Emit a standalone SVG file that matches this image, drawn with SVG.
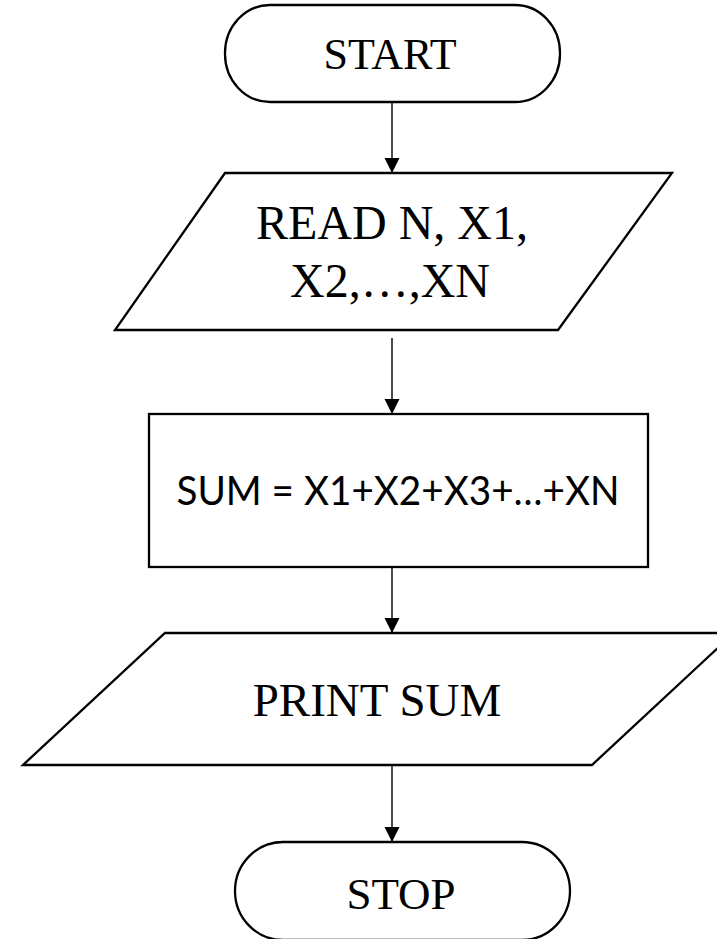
<svg xmlns="http://www.w3.org/2000/svg" width="717" height="939" viewBox="0 0 717 939">
  <style>
    .shape { fill: #ffffff; stroke: #000000; stroke-width: 2.3; }
    .edge { fill: none; stroke: #000000; stroke-width: 1.4; }
    .serif { font-family: "Liberation Serif", "Times New Roman", serif; fill: #000000; text-anchor: middle; }
    .sans { font-family: "Lato", "Open Sans", "Liberation Sans", sans-serif; fill: #000000; text-anchor: middle; }
  </style>
  <defs>
    <marker id="head" viewBox="0 0 16 16" refX="16" refY="8" markerWidth="15" markerHeight="16" markerUnits="userSpaceOnUse" orient="auto">
      <path d="M0,0 L16,8 L0,16 Z" fill="#000000"/>
    </marker>
  </defs>
  <rect width="717" height="939" fill="#ffffff"/>

  <!-- connectors -->
  <g id="connectors">
    <line class="edge" x1="392" y1="102" x2="392" y2="173" marker-end="url(#head)"/>
    <line class="edge" x1="392" y1="338" x2="392" y2="414" marker-end="url(#head)"/>
    <line class="edge" x1="392" y1="567" x2="392" y2="633" marker-end="url(#head)"/>
    <line class="edge" x1="392" y1="765" x2="392" y2="842" marker-end="url(#head)"/>
  </g>

  <!-- terminal: start -->
  <g id="start">
    <rect class="shape" x="225" y="5" width="335" height="97" rx="45" ry="48"/>
    <text class="serif" x="390" y="69" font-size="44">START</text>
  </g>

  <!-- input -->
  <g id="read">
    <polygon class="shape" points="225,173 672,173 558,330 115,330"/>
    <text class="serif" x="392" y="239" font-size="48">READ N, X1,</text>
    <text class="serif" x="390" y="297" font-size="48">X2,…,XN</text>
  </g>

  <!-- process -->
  <g id="sum">
    <rect class="shape" x="149" y="414" width="499" height="153"/>
    <text class="sans" x="398" y="505" font-size="40" textLength="443" lengthAdjust="spacingAndGlyphs">SUM = X1+X2+X3+…+XN</text>
  </g>

  <!-- output -->
  <g id="print">
    <polygon class="shape" points="165,633 734,633 592,765 23,765"/>
    <text class="serif" x="377" y="716" font-size="47">PRINT SUM</text>
  </g>

  <!-- terminal: stop -->
  <g id="stop">
    <rect class="shape" x="235" y="842" width="335" height="98" rx="48" ry="49"/>
    <text class="serif" x="401" y="909" font-size="45">STOP</text>
  </g>
</svg>
